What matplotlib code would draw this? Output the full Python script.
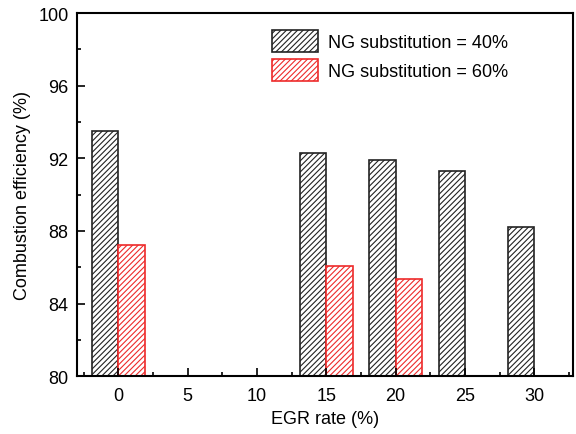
import matplotlib
matplotlib.use("Agg")
import matplotlib.pyplot as plt
import numpy as np
from matplotlib.ticker import MultipleLocator

plt.rcParams['font.family'] = ['Liberation Sans', 'DejaVu Sans']
plt.rcParams['hatch.linewidth'] = 0.8

egr_40 = [0, 15, 20, 25, 30]
eff_40 = [93.5, 92.3, 91.9, 91.3, 88.2]
egr_60 = [0, 15, 20]
eff_60 = [87.25, 86.05, 85.35]
x_ticks = [0, 5, 10, 15, 20, 25, 30]

w = 1.9
fig = plt.figure(figsize=(5.76, 4.35), dpi=100)
ax = fig.add_axes([0.1332, 0.1326, 0.8616, 0.8352])

base = 80
ax.bar(np.array(egr_40) - w / 2, np.array(eff_40) - base, width=w, bottom=base,
       color='white', edgecolor='#222222', hatch='//////', linewidth=1.2,
       label='NG substitution = 40%')
ax.bar(np.array(egr_60) + w / 2, np.array(eff_60) - base, width=w, bottom=base,
       color='white', edgecolor='#ee2a2a', hatch='//////', linewidth=1.2,
       label='NG substitution = 60%')

ax.set_xlim(-3, 32.8)
ax.set_ylim(80, 100)
ax.set_xticks(x_ticks)
ax.xaxis.set_minor_locator(MultipleLocator(2.5))
ax.yaxis.set_major_locator(MultipleLocator(4))
ax.yaxis.set_minor_locator(MultipleLocator(2))
ax.tick_params(which='both', direction='in', labelsize=13, width=1.2)
ax.tick_params(which='major', length=6)
ax.tick_params(which='minor', length=3)
ax.tick_params(axis='x', pad=8)
ax.tick_params(axis='y', pad=6)
for s in ax.spines.values():
    s.set_linewidth(1.5)

ax.set_xlabel('EGR rate (%)', fontsize=13, labelpad=4)
ax.set_ylabel('Combustion efficiency (%)', fontsize=13, labelpad=5)

ax.legend(loc='upper left', bbox_to_anchor=(0.378, 0.972), frameon=False,
          fontsize=13, handlelength=2.6, handleheight=1.5, handletextpad=0.5,
          labelspacing=0.35, borderaxespad=0)

fig.savefig('out.png', dpi=100)
